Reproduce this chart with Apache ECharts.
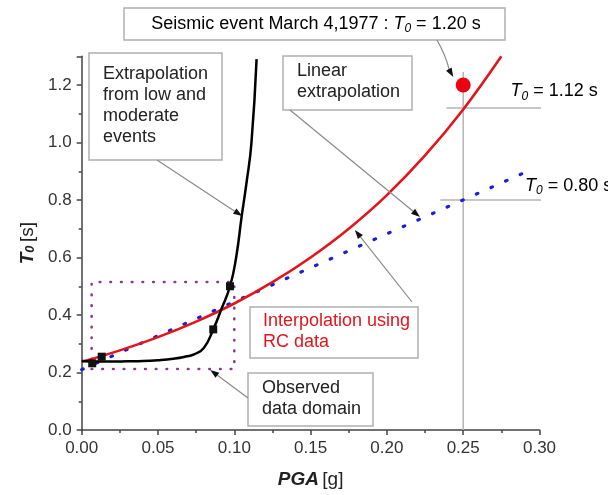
<!DOCTYPE html>
<html><head><meta charset="utf-8">
<script src="https://cdn.jsdelivr.net/npm/echarts@6/dist/echarts.min.js"></script>
<style>html,body{margin:0;padding:0;background:#fff}#c{width:608px;height:495px}</style>
</head><body><div id="c"></div>
<script>
// ---- data ----
const xTicks = [0, 0.05, 0.10, 0.15, 0.20, 0.25, 0.30];
const yTicks = [0, 0.2, 0.4, 0.6, 0.8, 1.0, 1.2];
// Interpolation using RC data (red)
const redX = [0, 0.025, 0.05, 0.075, 0.1, 0.125, 0.15, 0.175, 0.2, 0.225, 0.25, 0.275];
const redY = [0.237, 0.277, 0.323, 0.377, 0.440, 0.514, 0.600, 0.700, 0.817, 0.955, 1.115, 1.300];
// Linear extrapolation (blue dotted)
const blueX = [0, 0.293];
const blueY = [0.21, 0.902];
// Extrapolation from low and moderate events (black)
const blackX = [0, 0.01, 0.02, 0.03, 0.04, 0.05, 0.06, 0.067, 0.074, 0.08, 0.0862, 0.0915, 0.0972, 0.1012, 0.1048, 0.108, 0.1112, 0.1146];
const blackY = [0.240, 0.238, 0.238, 0.239, 0.240, 0.243, 0.248, 0.254, 0.264, 0.285, 0.350, 0.420, 0.500, 0.600, 0.742, 0.860, 0.997, 1.290];
// observed events (black squares)
const obsX = [0.0069, 0.0131, 0.0862, 0.0972];
const obsY = [0.232, 0.255, 0.350, 0.500];
// observed data domain (dotted rectangle)
const domainX = [0.0065, 0.100];
const domainY = [0.212, 0.515];
// seismic event March 4, 1977
const eventPGA = 0.25, eventT0 = 1.20;
// reference levels
const refPGA = 0.25;
const refT0Red = 1.12, refT0Blue = 0.80;

const FONT = '"Liberation Sans", Arial, sans-serif';
const zip = (xs, ys) => xs.map((x, i) => [x, ys[i]]);

const chart = echarts.init(document.getElementById('c'));
chart.setOption({
  animation: false,
  backgroundColor: '#fff',
  grid: { left: 81.7, right: 68.5, top: 56.25, bottom: 65 },
  xAxis: {
    type: 'value', min: 0, max: 0.3, interval: 0.05,
    name: '{b|PGA} {n|[g]}', nameLocation: 'middle', nameGap: 40,
    nameTextStyle: { rich: {
      b: { fontFamily: FONT, fontSize: 19, fontWeight: 'bold', fontStyle: 'italic', color: '#222' },
      n: { fontFamily: FONT, fontSize: 19, color: '#222' } } },
    axisLine: { lineStyle: { color: '#444', width: 1.5 } },
    axisTick: { length: 5, lineStyle: { color: '#444', width: 1.5 } },
    minorTick: { show: true, splitNumber: 2, length: 3, lineStyle: { color: '#444', width: 1.5 } },
    splitLine: { show: false },
    axisLabel: { fontFamily: FONT, fontSize: 17, color: '#333', margin: 10,
      formatter: v => v.toFixed(2) }
  },
  yAxis: {
    type: 'value', min: 0, max: 1.3, interval: 0.2,
    name: '{b|T}{s|0} {n|[s]}', nameLocation: 'middle', nameGap: 44, nameRotate: 90,
    nameTextStyle: { rich: {
      b: { fontFamily: FONT, fontSize: 19, fontWeight: 'bold', fontStyle: 'italic', color: '#222' },
      s: { fontFamily: FONT, fontSize: 13, fontWeight: 'bold', fontStyle: 'italic', color: '#222', verticalAlign: 'bottom' },
      n: { fontFamily: FONT, fontSize: 19, color: '#222' } } },
    axisLine: { show: true, lineStyle: { color: '#444', width: 1.5 } },
    axisTick: { show: true, length: 5, lineStyle: { color: '#444', width: 1.5 } },
    minorTick: { show: true, splitNumber: 2, length: 3, lineStyle: { color: '#444', width: 1.5 } },
    splitLine: { show: false },
    axisLabel: { fontFamily: FONT, fontSize: 17, color: '#333', margin: 10, showMaxLabel: false,
      formatter: v => (Math.abs(v - 1.3) < 1e-9 ? '' : v.toFixed(1)) }
  },
  series: [
    { type: 'line', data: [[refPGA, 0], [refPGA, 1.245]], clip: false, symbol: 'none', silent: true,
      lineStyle: { color: '#b4b4b4', width: 1.5 }, z: 1 },
    { type: 'line', data: [[0.239, refT0Red], [0.311, refT0Red]], clip: false, symbol: 'none', silent: true,
      lineStyle: { color: '#b4b4b4', width: 1.5 }, z: 1 },
    { type: 'line', data: [[0.235, refT0Blue], [0.304, refT0Blue]], clip: false, symbol: 'none', silent: true,
      lineStyle: { color: '#b4b4b4', width: 1.5 }, z: 1 },
    { type: 'line', data: [[domainX[0], domainY[0]], [domainX[1], domainY[0]], [domainX[1], domainY[1]], [domainX[0], domainY[1]], [domainX[0], domainY[0]]],
      symbol: 'none', lineStyle: { color: '#8b3a8b', width: 2.6, type: [0.6, 10.1], cap: 'round' }, z: 2 },
    { type: 'line', data: zip(blueX, blueY), symbol: 'none', clip: false,
      lineStyle: { color: '#1c1cdc', width: 3.2, type: [1.6, 14.4], cap: 'round' }, z: 3 },
    { type: 'line', data: zip(redX, redY), symbol: 'none', smooth: 0.4,
      lineStyle: { color: '#e3151b', width: 2.6 }, z: 4 },
    { type: 'line', data: zip(blackX, blackY), symbol: 'none', smooth: 0.5,
      lineStyle: { color: '#000', width: 2.5 }, z: 5 },
    { type: 'scatter', data: zip(obsX, obsY), symbol: 'rect', symbolSize: 8,
      itemStyle: { color: '#111', opacity: 1 }, z: 6 },
    { type: 'scatter', data: [[eventPGA, eventT0]], symbol: 'circle', symbolSize: 15,
      itemStyle: { color: '#ee0010', opacity: 1 }, z: 6 }
  ]
});

// ---- annotations ----
const P = (x, y) => chart.convertToPixel({ gridIndex: 0 }, [x, y]);
const g = [];
function box(x, y, w, h) {
  g.push({ type: 'rect', shape: { x, y, width: w, height: h }, z: 10,
    style: { fill: '#fff', stroke: '#b0b0b0', lineWidth: 1.5 } });
}
function txt(x, y, text, color) {
  g.push({ type: 'text', x, y, z: 11,
    style: { text, font: '18px ' + FONT, fill: color || '#222', lineHeight: 21, align: 'left', verticalAlign: 'top' } });
}
function arrow(t, h) {
  const dx = h[0] - t[0], dy = h[1] - t[1], L = Math.hypot(dx, dy), ux = dx / L, uy = dy / L;
  const hl = 9, hw = 3.2, bx = h[0] - ux * hl, by = h[1] - uy * hl;
  g.push({ type: 'line', z: 12, shape: { x1: t[0], y1: t[1], x2: bx, y2: by }, style: { stroke: '#8a8a8a', lineWidth: 1.2 } });
  g.push({ type: 'polygon', z: 12, shape: { points: [[h[0], h[1]], [bx - uy * hw, by + ux * hw], [bx + uy * hw, by - ux * hw]] }, style: { fill: '#111' } });
}
const richT = {
  n: { fontFamily: FONT, fontSize: 18, color: '#222', lineHeight: 22 },
  i: { fontFamily: FONT, fontSize: 18, fontStyle: 'italic', color: '#222', lineHeight: 22 },
  s: { fontFamily: FONT, fontSize: 12, fontStyle: 'italic', color: '#222', verticalAlign: 'bottom', lineHeight: 22 }
};
function richText(x, y, text, align) {
  g.push({ type: 'text', x, y, z: 11, style: { text, rich: richT, align: align || 'left', verticalAlign: 'middle' } });
}

// Seismic event box
box(124, 8, 381, 32);
richText(316, 24, '{n|Seismic event March 4,1977 : }{i|T}{s|0}{n| = 1.20 s}', 'center');
{
  const h = P(0.2435, 1.228), t = [437, 40];
  g.push({ type: 'bezierCurve', z: 12, shape: { x1: t[0], y1: t[1], x2: h[0] - 4, y2: h[1] - 7, cpx1: 446, cpy1: 56 }, style: { stroke: '#8a8a8a', lineWidth: 1.2, fill: null } });
  arrow([h[0] - 4, h[1] - 7], h);
}
// Extrapolation box
box(89, 53, 133, 107);
txt(103, 64, 'Extrapolation\nfrom low and\nmoderate\nevents');
arrow([157, 160], P(0.1052, 0.744));
// Linear extrapolation box
box(283, 56, 129, 54);
txt(297, 61, 'Linear\nextrapolation');
arrow([290, 110], P(0.2217, 0.741));
// Interpolation box
box(250, 307, 168, 51);
txt(263, 311, 'Interpolation using\nRC data', '#e3151b');
arrow([412, 302], P(0.179, 0.696));
// Observed box
box(248, 373, 125, 53);
txt(262, 378, 'Observed\ndata domain');
arrow([248, 398], P(0.0842, 0.209));
// T0 labels
{
  const a = P(0.281, 1.178); richText(a[0], a[1], '{i|T}{s|0}{n| = 1.12 s}');
  const b = P(0.2905, 0.849); richText(b[0], b[1], '{i|T}{s|0}{n| = 0.80 s}');
}
chart.setOption({ graphic: g });
</script></body></html>
